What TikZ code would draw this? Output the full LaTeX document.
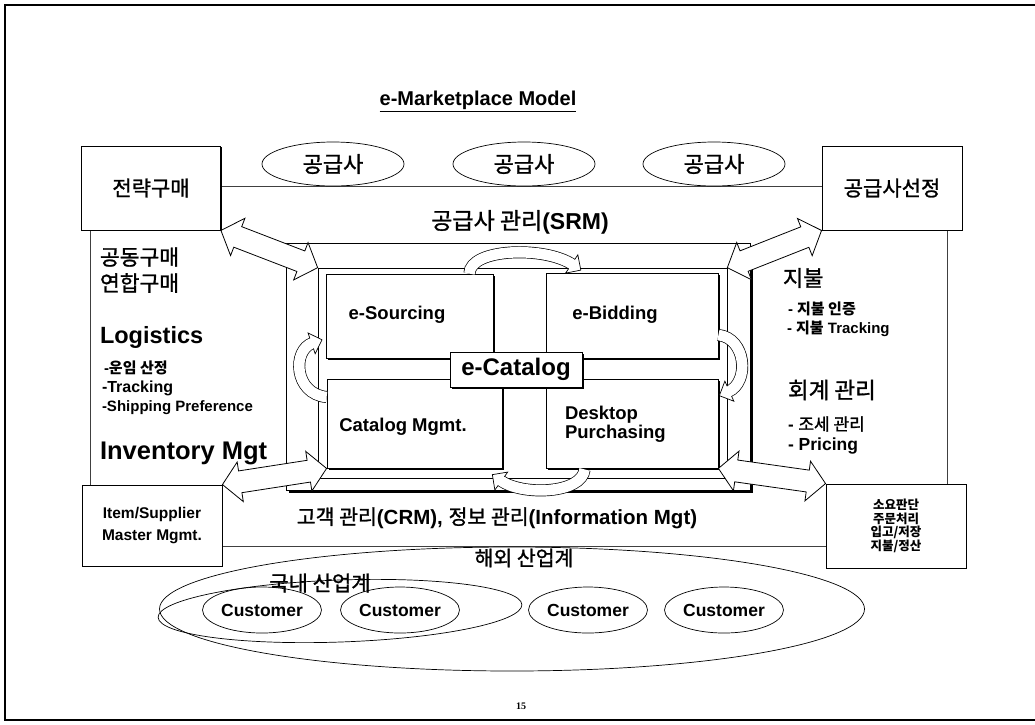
\documentclass[tikz,border=0pt]{standalone}
\usepackage{fontspec}
\setmainfont{Liberation Sans}
\newfontfamily\kr{Noto Sans CJK KR}
\newfontfamily\krm{Noto Sans CJK KR}[FakeBold=1.2]
\newfontfamily\pnum{Liberation Serif}
\usetikzlibrary{calc,shadows,shapes.geometric,decorations.markings}

\newcommand\fs[1]{\fontsize{#1}{#1}\selectfont}

% double-headed block arrow between two points
\newcommand\bidiarrow[2]{%
  \path let \p1=(#1), \p2=(#2),
    \n1={atan2(\y2-\y1,\x2-\x1)}, \n2={veclen(\x2-\x1,\y2-\y1)} in
    \pgfextra{\xdef\baAng{\n1}\xdef\baLen{\n2}};
  \draw[blockarrow, shift={(#1)}, rotate=\baAng]
    (0,0) -- (18pt,20pt) -- (18pt,11pt) -- ({(\baLen-18)*1pt},11pt)
    -- ({(\baLen-18)*1pt},20pt) -- ({\baLen*1pt},0pt)
    -- ({(\baLen-18)*1pt},-20pt) -- ({(\baLen-18)*1pt},-11pt)
    -- (18pt,-11pt) -- (18pt,-20pt) -- cycle;
}

\tikzset{
  lbl/.style={inner sep=0pt, outer sep=0pt},
  thinline/.style={draw, line width=0.6pt},
  card/.style={draw, fill=white, line width=0.8pt, inner sep=0pt,
    drop shadow={shadow xshift=2pt, shadow yshift=-2pt, fill=black, opacity=1}},
  cornerbox/.style={draw, fill=white, line width=0.9pt, inner sep=0pt,
    drop shadow={shadow xshift=1.2pt, shadow yshift=-1.2pt, fill=black, opacity=1}},
  oval/.style={draw, ellipse, line width=0.7pt, inner sep=0pt},
  blockarrow/.style={draw, fill=white, line width=0.8pt, line join=miter},
  hollowarrow/.style={
    preaction={draw=black, line width=12pt},
    draw=white, line width=10.6pt,
    postaction={decorate, decoration={markings, mark=at position 0.999 with {
      \filldraw[fill=white, draw=black, line width=0.7pt]
        (-1pt,5.3pt) -- (-1pt,11pt) -- (10pt,0pt) -- (-1pt,-11pt) -- (-1pt,-5.3pt);}}}}
}

\begin{document}
\begin{tikzpicture}[x=1pt,y=-1pt]
\useasboundingbox (0,0) rectangle (1035,724);
\fill[white] (0,0) rectangle (1035,724);

% page frame
\draw[line width=2.5pt] (1035,5) -- (5,5) -- (5,720) -- (1035,720);

% title
\node[lbl, font=\bfseries\fs{20}] (title) at (478,101) {\underline{e-Marketplace Model}};

% large surrounding rectangle
\draw[thinline, draw=black!75] (90,186) rectangle (947,546);

% corner boxes
\node[cornerbox, minimum width=139, minimum height=84, font=\krm\fs{21}] (strat) at (151,188) {전략구매};
\node[cornerbox, minimum width=140, minimum height=84, font=\krm\fs{21}] (select) at (892,188) {공급사선정};
\node[cornerbox, minimum width=140, minimum height=81, align=center,
      font=\bfseries\fontsize{15.5}{22}\selectfont] (item) at (152,525.5) {Item/Supplier\\Master Mgmt.};
\node[cornerbox, minimum width=140, minimum height=84, align=center,
      font=\kr\bfseries\fontsize{12.5}{13.7}\selectfont] (req) at (896,526) {소요판단\\주문처리\\입고/저장\\지불/정산};

% suppliers
\node[oval, minimum width=142, minimum height=44, font=\krm\fs{22}] (s1) at (333,164) {공급사};
\node[oval, minimum width=142, minimum height=44, font=\krm\fs{22}] (s2) at (524,164) {공급사};
\node[oval, minimum width=142, minimum height=44, font=\krm\fs{22}] (s3) at (714,164) {공급사};

\node[lbl, font=\fs{23}] (srm) at (520,222) {{\krm 공급사 관리}\textbf{(SRM)}};

% central frames
\node[draw, fill=white, line width=0.7pt, inner sep=0pt, minimum width=464, minimum height=247,
      drop shadow={shadow xshift=3pt, shadow yshift=-3pt, fill=black, opacity=1}] (outer) at (518,366.5) {};
\node[thinline, inner sep=0pt, minimum width=409, minimum height=210] (inner) at (522.5,373) {};

% function boxes
\node[card, minimum width=167, minimum height=84] (es) at (409.5,316) {};
\node[card, minimum width=172, minimum height=85] (eb) at (632,315.5) {};
\node[card, minimum width=175, minimum height=89] (cm) at (414.5,423.5) {};
\node[card, minimum width=172, minimum height=89] (dp) at (632,423.5) {};

\node[lbl, font=\bfseries\fs{18.5}] (esl) at (397,315) {e-Sourcing};
\node[lbl, font=\bfseries\fs{18.5}] (ebl) at (615,315) {e-Bidding};
\node[lbl, font=\bfseries\fs{18.5}] (cml) at (403,427) {Catalog Mgmt.};
\node[lbl, anchor=west, align=left, font=\bfseries\fontsize{18.5}{19}\selectfont] (dpl) at (565,424.5) {Desktop\\Purchasing};

% cycle between the function boxes
\draw[hollowarrow] ($(es.north east)+(-24,0)$) .. controls (470,248) and (545,246) .. ($(eb.north west)+(27,-8)$);
\draw[hollowarrow] ($(eb.east)+(0,19.5)$) .. controls (746,338) and (750,382) .. ($(dp.north east)+(10,13)$);
\draw[hollowarrow] ($(dp.south west)+(39,1)$) .. controls (582,494) and (522,496) .. ($(cm.south east)+(-2,12)$);
\draw[hollowarrow] ($(cm.west)+(0,-26.5)$) .. controls (294,394) and (292,350) .. ($(es.west)+(-13,27)$);

\node[card, minimum width=132, minimum height=35, font=\bfseries\fs{24}] (ecat) at (516,369.5) {e-Catalog};

% links from the corner boxes to the centre
\bidiarrow{strat.south east}{inner.north west}
\bidiarrow{select.south west}{inner.north east}
\bidiarrow{item.north east}{cm.south west}
\bidiarrow{req.north west}{dp.south east}

% left column
\node[lbl, anchor=west, font=\krm\fs{21.5}] (joint1) at (100,257) {공동구매};
\node[lbl, anchor=west, font=\krm\fs{21.5}] (joint2) at (100,283) {연합구매};
\node[lbl, anchor=west, font=\bfseries\fs{23.5}] (logi) at (100,337) {Logistics};
\node[lbl, anchor=west, font=\bfseries\fs{15}] (logi1) at (104,368) {-{\kr 운임 산정}};
\node[lbl, anchor=west, font=\bfseries\fs{16}] (logi2) at (102,388) {-Tracking};
\node[lbl, anchor=west, font=\bfseries\fs{15}] (logi3) at (102,408) {-Shipping Preference};
\node[lbl, anchor=west, font=\bfseries\fs{25.5}] (inv) at (100,453) {Inventory Mgt};

% right column
\node[lbl, anchor=west, font=\krm\fs{22}] (pay) at (783,278) {지불};
\node[lbl, anchor=west, font=\bfseries\fs{15}] (pay1) at (788,309) {- {\kr 지불 인증}};
\node[lbl, anchor=west, font=\bfseries\fs{15}] (pay2) at (787,329) {- {\kr 지불} Tracking};
\node[lbl, anchor=west, font=\krm\fs{22.5}] (acct) at (788,390) {회계 관리};
\node[lbl, anchor=west, font=\fs{17}] (acct1) at (788,424) {\textbf{-} {\krm 조세 관리}};
\node[lbl, anchor=west, font=\bfseries\fs{17.5}] (acct2) at (788,446) {- Pricing};

% customer side
\node[lbl, font=\fs{20.5}] (crm) at (497,518) {{\krm 고객 관리}\textbf{(CRM),} {\krm 정보 관리}\textbf{(Information Mgt)}};

\node[oval, minimum width=705, minimum height=124] (abroad) at (512,609) {};
\node[oval, rotate=2, minimum width=364, minimum height=62] (domestic) at (340,611) {};
\node[lbl, font=\krm\fs{20.5}] (abroadl) at (524,558) {해외 산업계};
\node[lbl, font=\krm\fs{21}] (domesticl) at (320,583) {국내 산업계};

\node[oval, minimum width=119, minimum height=46, font=\bfseries\fs{17.5}] (c1) at (262,610) {Customer};
\node[oval, minimum width=119, minimum height=46, font=\bfseries\fs{17.5}] (c2) at (400,610) {Customer};
\node[oval, minimum width=119, minimum height=46, font=\bfseries\fs{17.5}] (c3) at (588,610) {Customer};
\node[oval, minimum width=119, minimum height=46, font=\bfseries\fs{17.5}] (c4) at (724,610) {Customer};

\node[lbl, font=\pnum\bfseries\fs{10}] (page) at (521,706) {15};
\end{tikzpicture}
\end{document}
